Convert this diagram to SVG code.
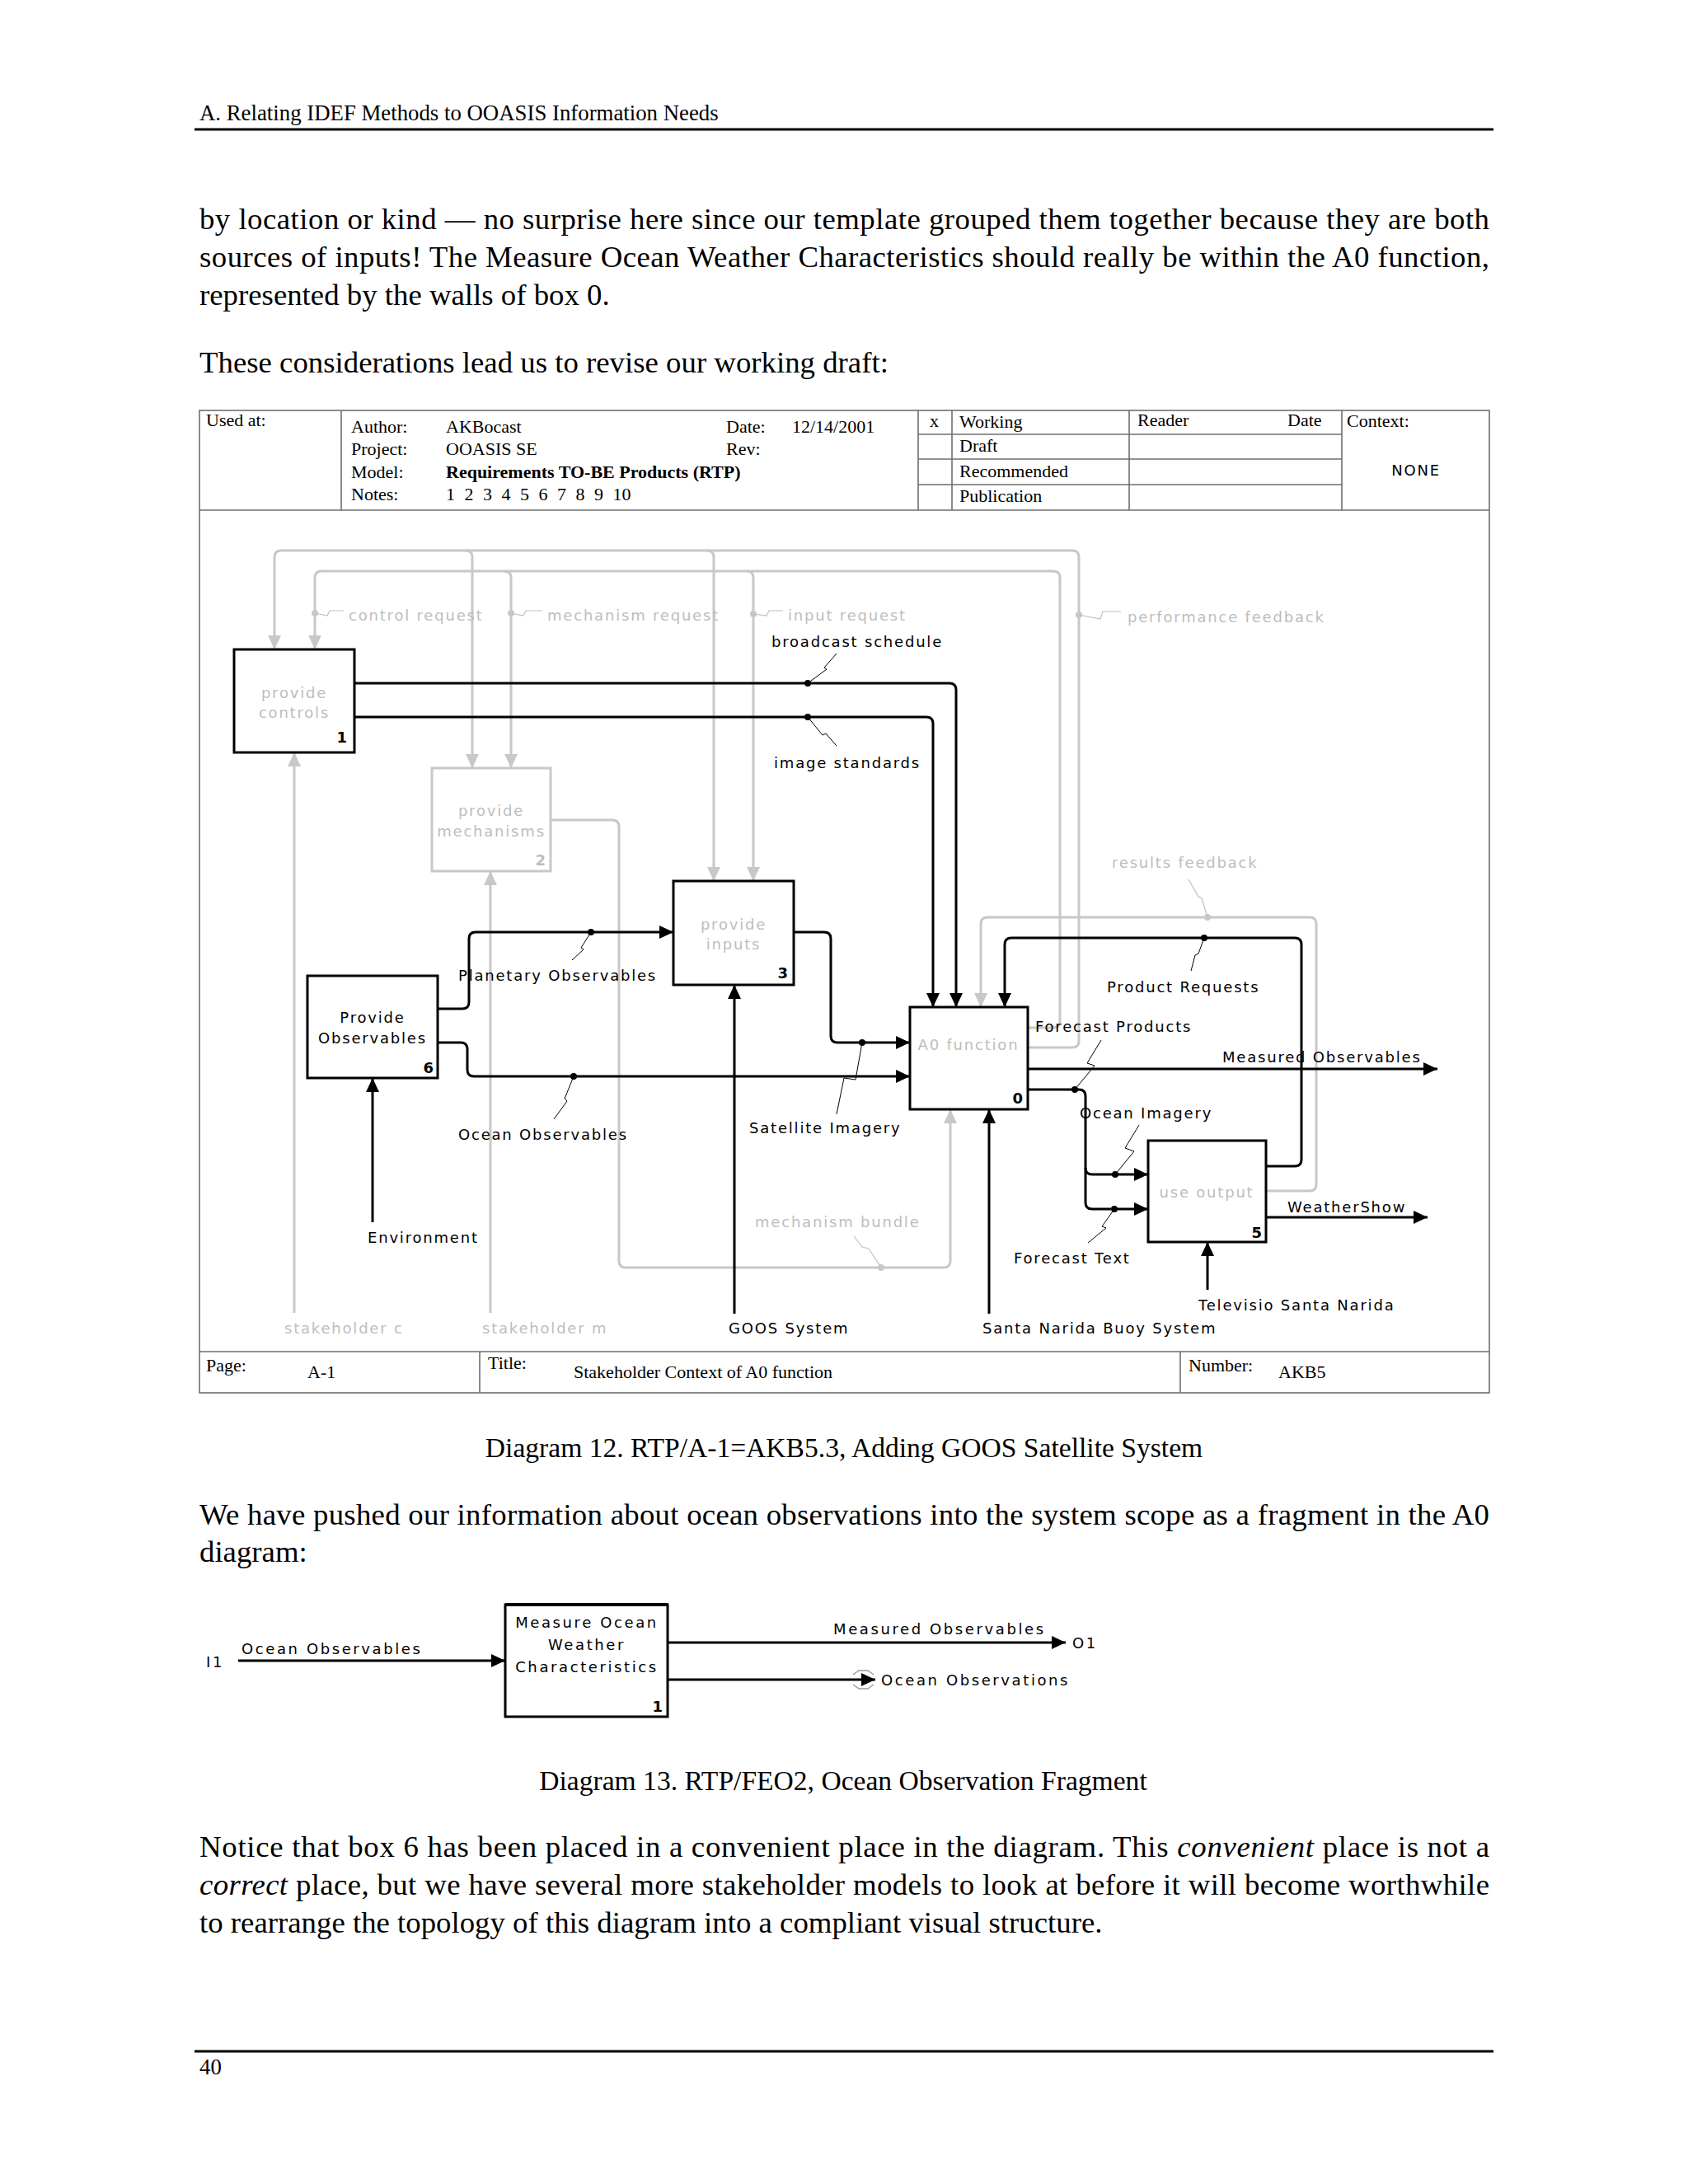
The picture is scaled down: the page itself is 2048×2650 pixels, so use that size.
<svg xmlns="http://www.w3.org/2000/svg" width="2048" height="2650" viewBox="0 0 2048 2650">
<style>
.serif{font-family:"Liberation Serif","Times New Roman",serif;fill:#000}
.body{font-size:36.8px}
.cap{font-size:33.6px}
.hd{font-size:26.8px}
.tb{font-size:22px}
.lbl{font-family:"DejaVu Sans",Verdana,sans-serif;font-size:18px;letter-spacing:1.8px}
.l13{font-family:"DejaVu Sans",Verdana,sans-serif;font-size:18px;letter-spacing:2.6px;fill:#000}
.k{fill:#000}
.g{fill:#bdbdbd}
.num{font-family:"DejaVu Sans",Verdana,sans-serif;font-size:18px;font-weight:bold;text-anchor:end}
.mid{text-anchor:middle}
.lk{fill:none;stroke:#000;stroke-width:3}
.lg{fill:none;stroke:#c8c8c8;stroke-width:3}
.bk{fill:#fff;stroke:#000;stroke-width:3}
.bg{fill:#fff;stroke:#c8c8c8;stroke-width:3}
.sq{fill:none;stroke:#000;stroke-width:1}
.sqg{fill:none;stroke:#c0c0c0;stroke-width:1.2}
.tun{fill:none;stroke:#9a9a9a;stroke-width:1.4}
.frame{fill:none;stroke:#6e6e6e;stroke-width:1.6}
.dk{fill:#000}
.dg{fill:#c8c8c8}
</style>
<defs>
<marker id="ak" markerUnits="userSpaceOnUse" markerWidth="18" markerHeight="16" refX="17" refY="8" orient="auto"><path d="M0,0 L17,8 L0,16 z" fill="#000"/></marker>
<marker id="ag" markerUnits="userSpaceOnUse" markerWidth="18" markerHeight="16" refX="17" refY="8" orient="auto"><path d="M0,0 L17,8 L0,16 z" fill="#c8c8c8"/></marker>
</defs>
<rect width="2048" height="2650" fill="#fff"/>

<g id="page-text">
<text class="serif hd" x="242" y="146">A. Relating IDEF Methods to OOASIS Information Needs</text>
<line x1="236" y1="157" x2="1812" y2="157" stroke="#000" stroke-width="3"/>
<text class="serif body" x="242" y="278" textLength="1565" lengthAdjust="spacing">by location or kind — no surprise here since our template grouped them together because they are both</text>
<text class="serif body" x="242" y="324" textLength="1565" lengthAdjust="spacing">sources of inputs! The Measure Ocean Weather Characteristics should really be within the A0 function,</text>
<text class="serif body" x="242" y="370">represented by the walls of box 0.</text>
<text class="serif body" x="242" y="452">These considerations lead us to revise our working draft:</text>
<text class="serif cap mid" x="1024" y="1768">Diagram 12. RTP/A-1=AKB5.3, Adding GOOS Satellite System</text>
<text class="serif body" x="242" y="1850" textLength="1565" lengthAdjust="spacing">We have pushed our information about ocean observations into the system scope as a fragment in the A0</text>
<text class="serif body" x="242" y="1895">diagram:</text>
<text class="serif cap mid" x="1023" y="2172">Diagram 13. RTP/FEO2, Ocean Observation Fragment</text>
<text class="serif body" x="242" y="2253" textLength="1565" lengthAdjust="spacing">Notice that box 6 has been placed in a convenient place in the diagram. This <tspan font-style="italic">convenient</tspan> place is not a</text>
<text class="serif body" x="242" y="2299" textLength="1565" lengthAdjust="spacing"><tspan font-style="italic">correct</tspan> place, but we have several more stakeholder models to look at before it will become worthwhile</text>
<text class="serif body" x="242" y="2345">to rearrange the topology of this diagram into a compliant visual structure.</text>
<line x1="236" y1="2489" x2="1812" y2="2489" stroke="#000" stroke-width="3"/>
<text class="serif hd" x="242" y="2517">40</text>
</g>

<g id="frame">
<rect class="frame" x="242" y="498" width="1565" height="1192"/>
<line class="frame" x1="242" y1="619" x2="1807" y2="619"/>
<line class="frame" x1="242" y1="1640" x2="1807" y2="1640"/>
<line class="frame" x1="414" y1="498" x2="414" y2="619"/>
<line class="frame" x1="1114" y1="498" x2="1114" y2="619"/>
<line class="frame" x1="1155" y1="498" x2="1155" y2="619"/>
<line class="frame" x1="1370" y1="498" x2="1370" y2="619"/>
<line class="frame" x1="1628" y1="498" x2="1628" y2="619"/>
<line class="frame" x1="1114" y1="527" x2="1628" y2="527"/>
<line class="frame" x1="1114" y1="557" x2="1628" y2="557"/>
<line class="frame" x1="1114" y1="588" x2="1628" y2="588"/>
<line class="frame" x1="582" y1="1640" x2="582" y2="1690"/>
<line class="frame" x1="1432" y1="1640" x2="1432" y2="1690"/>
<text class="serif tb" x="250" y="517">Used at:</text>
<text class="serif tb" x="426" y="525">Author:</text>
<text class="serif tb" x="541" y="525">AKBocast</text>
<text class="serif tb" x="881" y="525">Date:</text>
<text class="serif tb" x="961" y="525">12/14/2001</text>
<text class="serif tb" x="426" y="552">Project:</text>
<text class="serif tb" x="541" y="552">OOASIS SE</text>
<text class="serif tb" x="881" y="552">Rev:</text>
<text class="serif tb" x="426" y="580">Model:</text>
<text class="serif tb" x="541" y="580" font-weight="bold">Requirements TO-BE Products (RTP)</text>
<text class="serif tb" x="426" y="607">Notes:</text>
<text class="serif tb" x="541" y="607" word-spacing="6">1 2 3 4 5 6 7 8 9 10</text>
<text class="serif tb" x="1128" y="518">x</text>
<text class="serif tb" x="1164" y="519">Working</text>
<text class="serif tb" x="1380" y="517">Reader</text>
<text class="serif tb" x="1562" y="517">Date</text>
<text class="serif tb" x="1634" y="518">Context:</text>
<text class="serif tb" x="1164" y="548">Draft</text>
<text class="serif tb" x="1164" y="579">Recommended</text>
<text class="serif tb" x="1164" y="609">Publication</text>
<text class="lbl k mid" x="1718" y="577">NONE</text>
<text class="serif tb" x="250" y="1664">Page:</text>
<text class="serif tb" x="373" y="1672">A-1</text>
<text class="serif tb" x="592" y="1661">Title:</text>
<text class="serif tb" x="696" y="1672">Stakeholder Context of A0 function</text>
<text class="serif tb" x="1442" y="1664">Number:</text>
<text class="serif tb" x="1551" y="1672">AKB5</text>
</g>

<g id="connectors">
<path class="lg" marker-end="url(#ag)" d="M1247,1271 L1301,1271 Q1309,1271 1309,1263 L1309,676 Q1309,668 1301,668 L341,668 Q333,668 333,676 L333,788"/>
<path class="lg" marker-end="url(#ag)" d="M565,668 Q573,668 573,676 L573,932"/>
<path class="lg" marker-end="url(#ag)" d="M858,668 Q866,668 866,676 L866,1069"/>
<path class="lg" marker-end="url(#ag)" d="M1247,1247 L1278,1247 Q1286,1247 1286,1239 L1286,701 Q1286,693 1278,693 L390,693 Q382,693 382,701 L382,788"/>
<path class="lg" marker-end="url(#ag)" d="M612,693 Q620,693 620,701 L620,932"/>
<path class="lg" marker-end="url(#ag)" d="M906,693 Q914,693 914,701 L914,1069"/>
<path class="lg" marker-end="url(#ag)" d="M668,995 L743,995 Q751,995 751,1003 L751,1530 Q751,1538 759,1538 L1145,1538 Q1153,1538 1153,1530 L1153,1346"/>
<path class="lg" marker-end="url(#ag)" d="M357,1593 L357,913"/>
<path class="lg" marker-end="url(#ag)" d="M595,1593 L595,1057"/>
<path class="lg" marker-end="url(#ag)" d="M1536,1445 L1589,1445 Q1597,1445 1597,1437 L1597,1121 Q1597,1113 1589,1113 L1198,1113 Q1190,1113 1190,1121 L1190,1222"/>
<path class="lk" marker-end="url(#ak)" d="M430,829 L1152,829 Q1160,829 1160,837 L1160,1222"/>
<path class="lk" marker-end="url(#ak)" d="M430,870 L1124,870 Q1132,870 1132,878 L1132,1222"/>
<path class="lk" marker-end="url(#ak)" d="M531,1224 L561,1224 Q569,1224 569,1216 L569,1139 Q569,1131 577,1131 L817,1131"/>
<path class="lk" marker-end="url(#ak)" d="M531,1265 L559,1265 Q567,1265 567,1273 L567,1298 Q567,1306 575,1306 L1104,1306"/>
<path class="lk" marker-end="url(#ak)" d="M963,1131 L1000,1131 Q1008,1131 1008,1139 L1008,1257 Q1008,1265 1016,1265 L1104,1265"/>
<path class="lk" marker-end="url(#ak)" d="M891,1594 L891,1195"/>
<path class="lk" marker-end="url(#ak)" d="M452,1483 L452,1308"/>
<path class="lk" marker-end="url(#ak)" d="M1200,1594 L1200,1346"/>
<path class="lk" marker-end="url(#ak)" d="M1465,1565 L1465,1507"/>
<path class="lk" marker-end="url(#ak)" d="M1536,1415 L1571,1415 Q1579,1415 1579,1407 L1579,1146 Q1579,1138 1571,1138 L1227,1138 Q1219,1138 1219,1146 L1219,1222"/>
<path class="lk" marker-end="url(#ak)" d="M1247,1297 L1744,1297"/>
<path class="lk" marker-end="url(#ak)" d="M1247,1322 L1309,1322 Q1317,1322 1317,1330 L1317,1459 Q1317,1467 1325,1467 L1393,1467"/>
<path class="lk" marker-end="url(#ak)" d="M1317,1417 Q1317,1425 1325,1425 L1393,1425"/>
<path class="lk" marker-end="url(#ak)" d="M1536,1477 L1732,1477"/>
<circle class="dk" cx="980" cy="829" r="4"/>
<circle class="dk" cx="980" cy="870" r="4"/>
<circle class="dk" cx="717" cy="1131" r="4"/>
<circle class="dk" cx="696" cy="1306" r="4"/>
<circle class="dk" cx="1046" cy="1265" r="4"/>
<circle class="dk" cx="1461" cy="1138" r="4"/>
<circle class="dk" cx="1304" cy="1322" r="4"/>
<circle class="dk" cx="1353" cy="1425" r="4"/>
<circle class="dk" cx="1352" cy="1467" r="4"/>
<circle class="dg" cx="1465" cy="1113" r="4"/>
<circle class="dg" cx="1069" cy="1538" r="4"/>
<circle class="dg" cx="382" cy="744" r="4"/>
<circle class="dg" cx="620" cy="744" r="4"/>
<circle class="dg" cx="914" cy="745" r="4"/>
<circle class="dg" cx="1309" cy="746" r="4"/>
<path class="sq" d="M980,829 L1003,812 L1000,810 L1015,793"/>
<path class="sq" d="M980,870 L998,892 L1002,890 L1015,905"/>
<path class="sq" d="M717,1131 L705,1150 L708,1152 L694,1165"/>
<path class="sq" d="M696,1306 L685,1333 L688,1336 L672,1358"/>
<path class="sq" d="M1046,1265 L1038,1310 L1024,1308 L1015,1352"/>
<path class="sq" d="M1461,1138 L1454,1157 L1450,1159 L1445,1178"/>
<path class="sq" d="M1304,1322 L1328,1293 L1319,1290 L1336,1262"/>
<path class="sq" d="M1353,1425 L1376,1397 L1365,1393 L1382,1365"/>
<path class="sq" d="M1352,1467 L1337,1488 L1342,1490 L1320,1508"/>
<path class="sqg" d="M1465,1113 L1458,1090 L1454,1088 L1442,1067"/>
<path class="sqg" d="M1069,1538 L1054,1515 L1046,1513 L1036,1500"/>
<path class="sqg" d="M382,744 L397,747 L400,741 L417,741"/>
<path class="sqg" d="M620,744 L635,747 L638,741 L658,741"/>
<path class="sqg" d="M914,745 L930,747 L933,741 L950,741"/>
<path class="sqg" d="M1309,746 L1335,751 L1338,742 L1360,742"/>
<text class="lbl g" x="423" y="753">control request</text>
<text class="lbl g" x="664" y="753">mechanism request</text>
<text class="lbl g" x="956" y="753">input request</text>
<text class="lbl g" x="1368" y="755">performance feedback</text>
<text class="lbl k" x="936" y="785">broadcast schedule</text>
<text class="lbl k" x="939" y="932">image standards</text>
<text class="lbl g" x="1349" y="1053">results feedback</text>
<text class="lbl k" x="1343" y="1204">Product Requests</text>
<text class="lbl k" x="556" y="1190">Planetary Observables</text>
<text class="lbl k" x="1256" y="1252">Forecast Products</text>
<text class="lbl k" x="1483" y="1289">Measured Observables</text>
<text class="lbl k" x="1310" y="1357">Ocean Imagery</text>
<text class="lbl k" x="909" y="1375">Satellite Imagery</text>
<text class="lbl k" x="556" y="1383">Ocean Observables</text>
<text class="lbl k" x="1562" y="1471">WeatherShow</text>
<text class="lbl g" x="916" y="1489">mechanism bundle</text>
<text class="lbl k" x="446" y="1508">Environment</text>
<text class="lbl k" x="1230" y="1533">Forecast Text</text>
<text class="lbl k" x="1454" y="1590">Televisio Santa Narida</text>
<text class="lbl g" x="345" y="1618">stakeholder c</text>
<text class="lbl g" x="585" y="1618">stakeholder m</text>
<text class="lbl k" x="884" y="1618">GOOS System</text>
<text class="lbl k" x="1192" y="1618">Santa Narida Buoy System</text>
</g>

<g id="box1">
<rect class="bk" x="284" y="788" width="146" height="125"/>
<text class="lbl g mid" x="357" y="847">provide</text>
<text class="lbl g mid" x="357" y="871">controls</text>
<text class="num k" x="421" y="901">1</text>
</g>
<g id="box2">
<rect class="bg" x="524" y="932" width="144" height="125"/>
<text class="lbl g mid" x="596" y="990">provide</text>
<text class="lbl g mid" x="596" y="1015">mechanisms</text>
<text class="num g" x="662" y="1050">2</text>
</g>
<g id="box3">
<rect class="bk" x="817" y="1069" width="146" height="126"/>
<text class="lbl g mid" x="890" y="1128">provide</text>
<text class="lbl g mid" x="890" y="1152">inputs</text>
<text class="num k" x="956" y="1187">3</text>
</g>
<g id="box6">
<rect class="bk" x="373" y="1184" width="158" height="124"/>
<text class="lbl k mid" x="452" y="1241">Provide</text>
<text class="lbl k mid" x="452" y="1266">Observables</text>
<text class="num k" x="526" y="1302">6</text>
</g>
<g id="box0">
<rect class="bk" x="1104" y="1222" width="143" height="124"/>
<text class="lbl g mid" x="1175" y="1274">A0 function</text>
<text class="num k" x="1241" y="1339">0</text>
</g>
<g id="box5">
<rect class="bk" x="1393" y="1384" width="143" height="123"/>
<text class="lbl g mid" x="1464" y="1453">use output</text>
<text class="num k" x="1531" y="1502">5</text>
</g>

<g id="diagram13">
<g id="d13-connectors">
<path class="lk" marker-end="url(#ak)" d="M289,2015 L613,2015"/>
<path class="lk" marker-end="url(#ak)" d="M810,1993 L1293,1993"/>
<path class="lk" marker-end="url(#ak)" d="M810,2038 L1062,2038"/>
<path class="tun" d="M1035,2032 L1042,2027 L1053,2027 L1060,2032"/>
<path class="tun" d="M1035,2044 L1042,2049 L1053,2049 L1060,2044"/>
<text class="l13" x="250" y="2023">I1</text>
<text class="l13" x="293" y="2007">Ocean Observables</text>
<text class="l13" x="1011" y="1983">Measured Observables</text>
<text class="l13" x="1301" y="2000">O1</text>
<text class="l13" x="1069" y="2045">Ocean Observations</text>
</g>
<g id="d13-box1">
<rect class="bk" x="613" y="1947" width="197" height="136"/>
<line x1="613" y1="1947" x2="810" y2="1947" stroke="#000" stroke-width="4"/>
<text class="l13 mid" x="712" y="1975">Measure Ocean</text>
<text class="l13 mid" x="712" y="2002">Weather</text>
<text class="l13 mid" x="712" y="2029">Characteristics</text>
<text class="num k" x="804" y="2077">1</text>
</g>
</g>
</svg>
